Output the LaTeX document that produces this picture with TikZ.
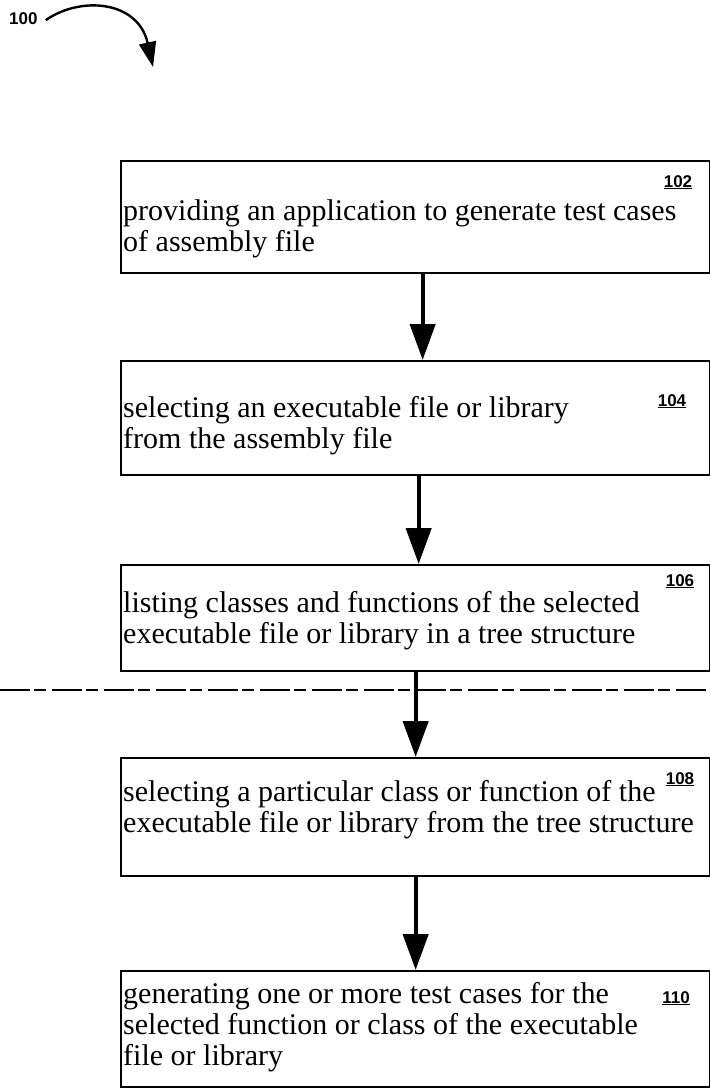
\documentclass[tikz,border=0pt]{standalone}
\usepackage{fontspec}
\setmainfont{Liberation Serif}
\newfontfamily\labelfont{Liberation Sans}
\usetikzlibrary{arrows.meta}
\tikzset{
  stepbox/.style={draw, line width=2.3pt, anchor=north west, inner sep=0pt, minimum width=589pt},
  steptext/.style={font=\fontsize{30}{31}\selectfont, align=left, anchor=north west, inner sep=0pt},
  reflabel/.style={font=\labelfont\bfseries\fontsize{17}{17}\selectfont, inner sep=0pt, anchor=base},
  flow/.style={line width=4.2pt, -{Triangle[length=36pt,width=25pt]}},
}
\newcommand{\refnum}[1]{\underline{#1}}
\begin{document}
\begin{tikzpicture}[x=1pt,y=-1pt]
\useasboundingbox (0,0) rectangle (710,1088);
% reference numeral 100 and its curved arrow
\node[reflabel, anchor=base west] (l100) at (9,24) {100};
\coordinate (c100) at (153,67);
\draw[line width=2.4pt, -{Triangle[length=25pt,width=17pt]}] ([xshift=8pt,yshift=-2pt]l100.east) .. controls (80,-4) and (138,0) .. (c100);
% boxes
\node[stepbox, minimum height=112pt] (b102) at (120,160) {};
\node[stepbox, minimum height=114pt] (b104) at (120,360) {};
\node[stepbox, minimum height=106pt] (b106) at (120,564) {};
\node[stepbox, minimum height=118pt] (b108) at (120,757) {};
\node[stepbox, minimum height=116pt] (b110) at (120,970) {};
% texts
\node[steptext] (t102) at (123,199) {providing an application to generate test cases\\of assembly file};
\node[steptext] (t104) at (123,396) {selecting an executable file or library\\from the assembly file};
\node[steptext] (t106) at (123,591) {listing classes and functions of the selected\\executable file or library in a tree structure};
\node[steptext] (t108) at (123,780) {selecting a particular class or function of the\\executable file or library from the tree structure};
\node[steptext] (t110) at (123,982) {generating one or more test cases for the\\selected function or class of the executable\\file or library};
% reference numerals
\node[reflabel] (n102) at (678,187) {\refnum{102}};
\node[reflabel] (n104) at (672,406) {\refnum{104}};
\node[reflabel] (n106) at (680,586) {\refnum{106}};
\node[reflabel] (n108) at (680,784) {\refnum{108}};
\node[reflabel] (n110) at (676,1003) {\refnum{110}};
% dashed stray line
\coordinate (dl) at (0,690);
\coordinate (dr) at (709,690);
\draw[line width=1.1pt, dash pattern=on 30pt off 4pt on 12pt off 6pt] (dl) -- (dr);
% flow arrows
\draw[flow] ([xshift=7pt]b102.south) -- ([xshift=7pt]b104.north);
\draw[flow] ([xshift=3pt]b104.south) -- ([xshift=3pt]b106.north);
\draw[flow] (b106.south) -- (b108.north);
\draw[flow] (b108.south) -- (b110.north);
\end{tikzpicture}
\end{document}
